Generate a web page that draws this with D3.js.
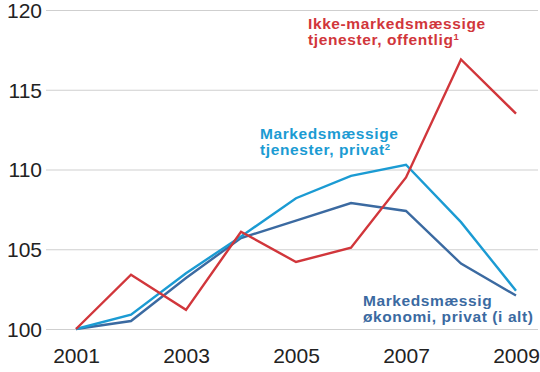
<!DOCTYPE html>
<html>
<head>
<meta charset="utf-8">
<script src="https://cdn.jsdelivr.net/npm/d3@7"></script>
<style>
  body { margin: 0; background: #fff; }
  svg text { font-family: "Liberation Sans", Arial, sans-serif; }
  .tick text { font-size: 21px; fill: #222; }
  .lbl { font-size: 15.5px; font-weight: bold; letter-spacing: 0.6px; }
</style>
</head>
<body>
<svg id="chart" width="540" height="372"></svg>
<script>
// Data
const years = [2001, 2002, 2003, 2004, 2005, 2006, 2007, 2008, 2009];
const offentlig = [100, 103.4, 101.2, 106.1, 104.2, 105.1, 109.5, 116.9, 113.5];
const tjenesterPrivat = [100, 100.9, 103.5, 105.8, 108.2, 109.6, 110.3, 106.7, 102.4];
const oekonomiPrivat = [100, 100.5, 103.2, 105.7, 106.8, 107.9, 107.4, 104.1, 102.1];
const yTicks = [100, 105, 110, 115, 120];
const xTicks = [2001, 2003, 2005, 2007, 2009];

const series = [
    {name: 'oekonomi', values: oekonomiPrivat, color: '#3b6aa1',
     label: ['Markedsmæssig', 'økonomi, privat (i alt)'], sup: '', lx: 363, ly: 306},
    {name: 'tjenester', values: tjenesterPrivat, color: '#1b9bd3',
     label: ['Markedsmæssige', 'tjenester, privat'], sup: '2', lx: 260, ly: 139},
    {name: 'offentlig', values: offentlig, color: '#d1363b',
     label: ['Ikke-markedsmæssige', 'tjenester, offentlig'], sup: '1', lx: 308, ly: 29}
];

let svg = d3.select('#chart');

let x = d3.scaleLinear().domain([2001, 2009]).range([76, 516]);
let y = d3.scaleLinear().domain([100, 120]).range([329, 10]);

// y grid + labels
let yAxis = d3.axisLeft(y).tickValues(yTicks).tickSize(0).tickPadding(0);
let gy = svg.append('g').attr('transform', 'translate(42,0)').call(yAxis);
gy.select('.domain').remove();
gy.selectAll('.tick text').attr('dy', '0.35em');
gy.selectAll('.tick').append('line')
    .attr('x1', 4).attr('x2', 496)
    .attr('stroke', '#cfcfcf').attr('stroke-width', 1.2);

// x labels
let xAxis = d3.axisBottom(x).tickValues(xTicks).tickFormat(d3.format('d')).tickSize(0).tickPadding(0);
let gx = svg.append('g').attr('transform', 'translate(0,348)').call(xAxis);
gx.select('.domain').remove();
gx.selectAll('.tick text').attr('dy', '0.71em');

// lines
let line = d3.line()
    .x((d, i) => x(years[i]))
    .y(d => y(d));

for (let s of series) {
    svg.append('path')
        .datum(s.values)
        .attr('fill', 'none')
        .attr('stroke', s.color)
        .attr('stroke-width', 2.4)
        .attr('stroke-linejoin', 'miter')
        .attr('d', line);

    let t = svg.append('text').attr('class', 'lbl')
        .attr('fill', s.color)
        .attr('x', s.lx).attr('y', s.ly);
    t.append('tspan').text(s.label[0]);
    t.append('tspan').attr('x', s.lx).attr('dy', 15.5).text(s.label[1]);
    if (s.sup) {
        t.append('tspan').attr('dy', -4.5).attr('font-size', 9.5).text(s.sup);
    }
}
</script>
</body>
</html>
